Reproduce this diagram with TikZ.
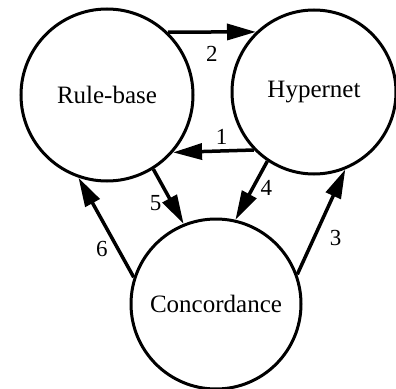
\documentclass[tikz,border=0pt]{standalone}
\usepackage{fontspec}
\setmainfont{Liberation Serif}
\usetikzlibrary{arrows.meta}

\tikzset{
  store/.style={circle, draw, line width=3pt, inner sep=0pt,
    font=\fontsize{25}{30}\selectfont},
  flow/.style={line width=3.5pt, -{Triangle[length=29pt,width=16pt]}},
  num/.style={font=\fontsize{23}{28}\selectfont, inner sep=2pt}
}

\begin{document}
\begin{tikzpicture}[x=1pt,y=-1pt]
\useasboundingbox (0,0) rectangle (396,388);
\node[store, minimum size=172pt] (rule) at (107,95) {Rule-base};
\node[store, minimum size=164pt] (hyper) at (314,92) {Hypernet};
\node[store, minimum size=170pt] (conc) at (216,304) {Concordance};
% links between the three stores
\draw[flow] (rule.46) -- node[num, below=11pt] {2} (hyper.134);
\draw[flow] (hyper.224) -- node[num, pos=0.4, above=3pt] {1} (rule.319);
\draw[flow] (rule.302) -- node[num, pos=0.62, left=7pt] {5} (conc.112);
\draw[flow] (hyper.236) -- node[num, pos=0.45, right=4pt] {4} (conc.77);
\draw[flow] (conc.162) -- node[num, pos=0.28, left=7pt] {6} (rule.251);
\draw[flow] (conc.20) -- node[num, pos=0.35, right=12pt] {3} (hyper.292);
\end{tikzpicture}
\end{document}
